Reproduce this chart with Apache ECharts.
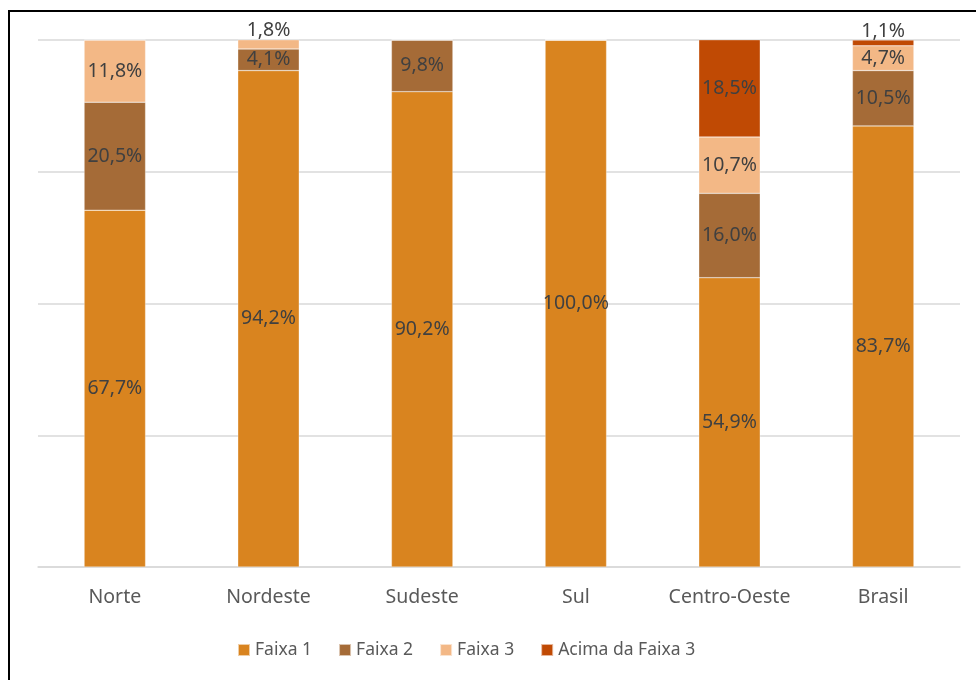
<!DOCTYPE html>
<html><head><meta charset="utf-8">
<script src="https://cdn.jsdelivr.net/npm/echarts@6/dist/echarts.min.js"></script>
<style>html,body{margin:0;padding:0;background:#fff}#c{width:976px;height:680px}</style>
</head><body><div id="c"></div>
<script>
const categories = ['Norte','Nordeste','Sudeste','Sul','Centro-Oeste','Brasil'];
const faixa1 = [67.7, 94.2, 90.2, 100.0, 54.9, 83.7];
const faixa2 = [20.5, 4.1, 9.8, 0, 16.0, 10.5];
const faixa3 = [11.8, 1.8, 0, 0, 10.7, 4.7];
const acima = [0, 0, 0, 0, 18.5, 1.1];
const seriesNames = ['Faixa 1','Faixa 2','Faixa 3','Acima da Faixa 3'];
const colors = ['#D9841F','#A56B37','#F3B886','#C04A04'];
const topLabelSmall = 2.5;

const font = 'Noto Sans';
function mk(name, arr, color) {
  return {
    name, type: 'bar', stack: 'total', barWidth: '40%',
    itemStyle: { color, borderColor: 'rgba(255,255,255,0.6)', borderWidth: 0.5 },
    data: arr.map(v => {
      const item = { value: v };
      if (v < topLabelSmall && v > 0) {
        item.label = { position: 'top', distance: -1 };
      }
      return item;
    }),
    label: {
      show: true, position: 'inside', color: '#404040', fontFamily: font, fontSize: 19.5,
      formatter: p => p.value > 0 ? p.value.toFixed(1).replace('.', ',') + '%' : ''
    }
  };
}
const chart = echarts.init(document.getElementById('c'));
chart.setOption({
  animation: false,
  color: colors,
  grid: { left: 38, right: 16, top: 40, bottom: 113 },
  xAxis: {
    type: 'category', data: categories,
    axisLine: { lineStyle: { color: '#d9d9d9', width: 1.5 } },
    axisTick: { show: false },
    axisLabel: { color: '#595959', fontFamily: font, fontSize: 19.5, margin: 20, interval: 0 }
  },
  yAxis: {
    type: 'value', min: 0, max: 100, interval: 25,
    axisLabel: { show: false }, axisLine: { show: false }, axisTick: { show: false },
    splitLine: { lineStyle: { color: '#d9d9d9', width: 1.5 } }
  },
  legend: {
    bottom: 16, left: 232, itemWidth: 12, itemHeight: 12, itemGap: 26,
    icon: 'rect',
    textStyle: { color: '#595959', fontFamily: font, fontSize: 17.5 },
    data: seriesNames
  },
  graphic: [{
    type: 'rect', shape: { x: 9, y: 11, width: 1000, height: 700 },
    style: { fill: 'none', stroke: '#000', lineWidth: 2 }, silent: true
  }],
  series: [
    mk(seriesNames[0], faixa1, colors[0]),
    mk(seriesNames[1], faixa2, colors[1]),
    mk(seriesNames[2], faixa3, colors[2]),
    mk(seriesNames[3], acima, colors[3])
  ]
});
</script></body></html>
